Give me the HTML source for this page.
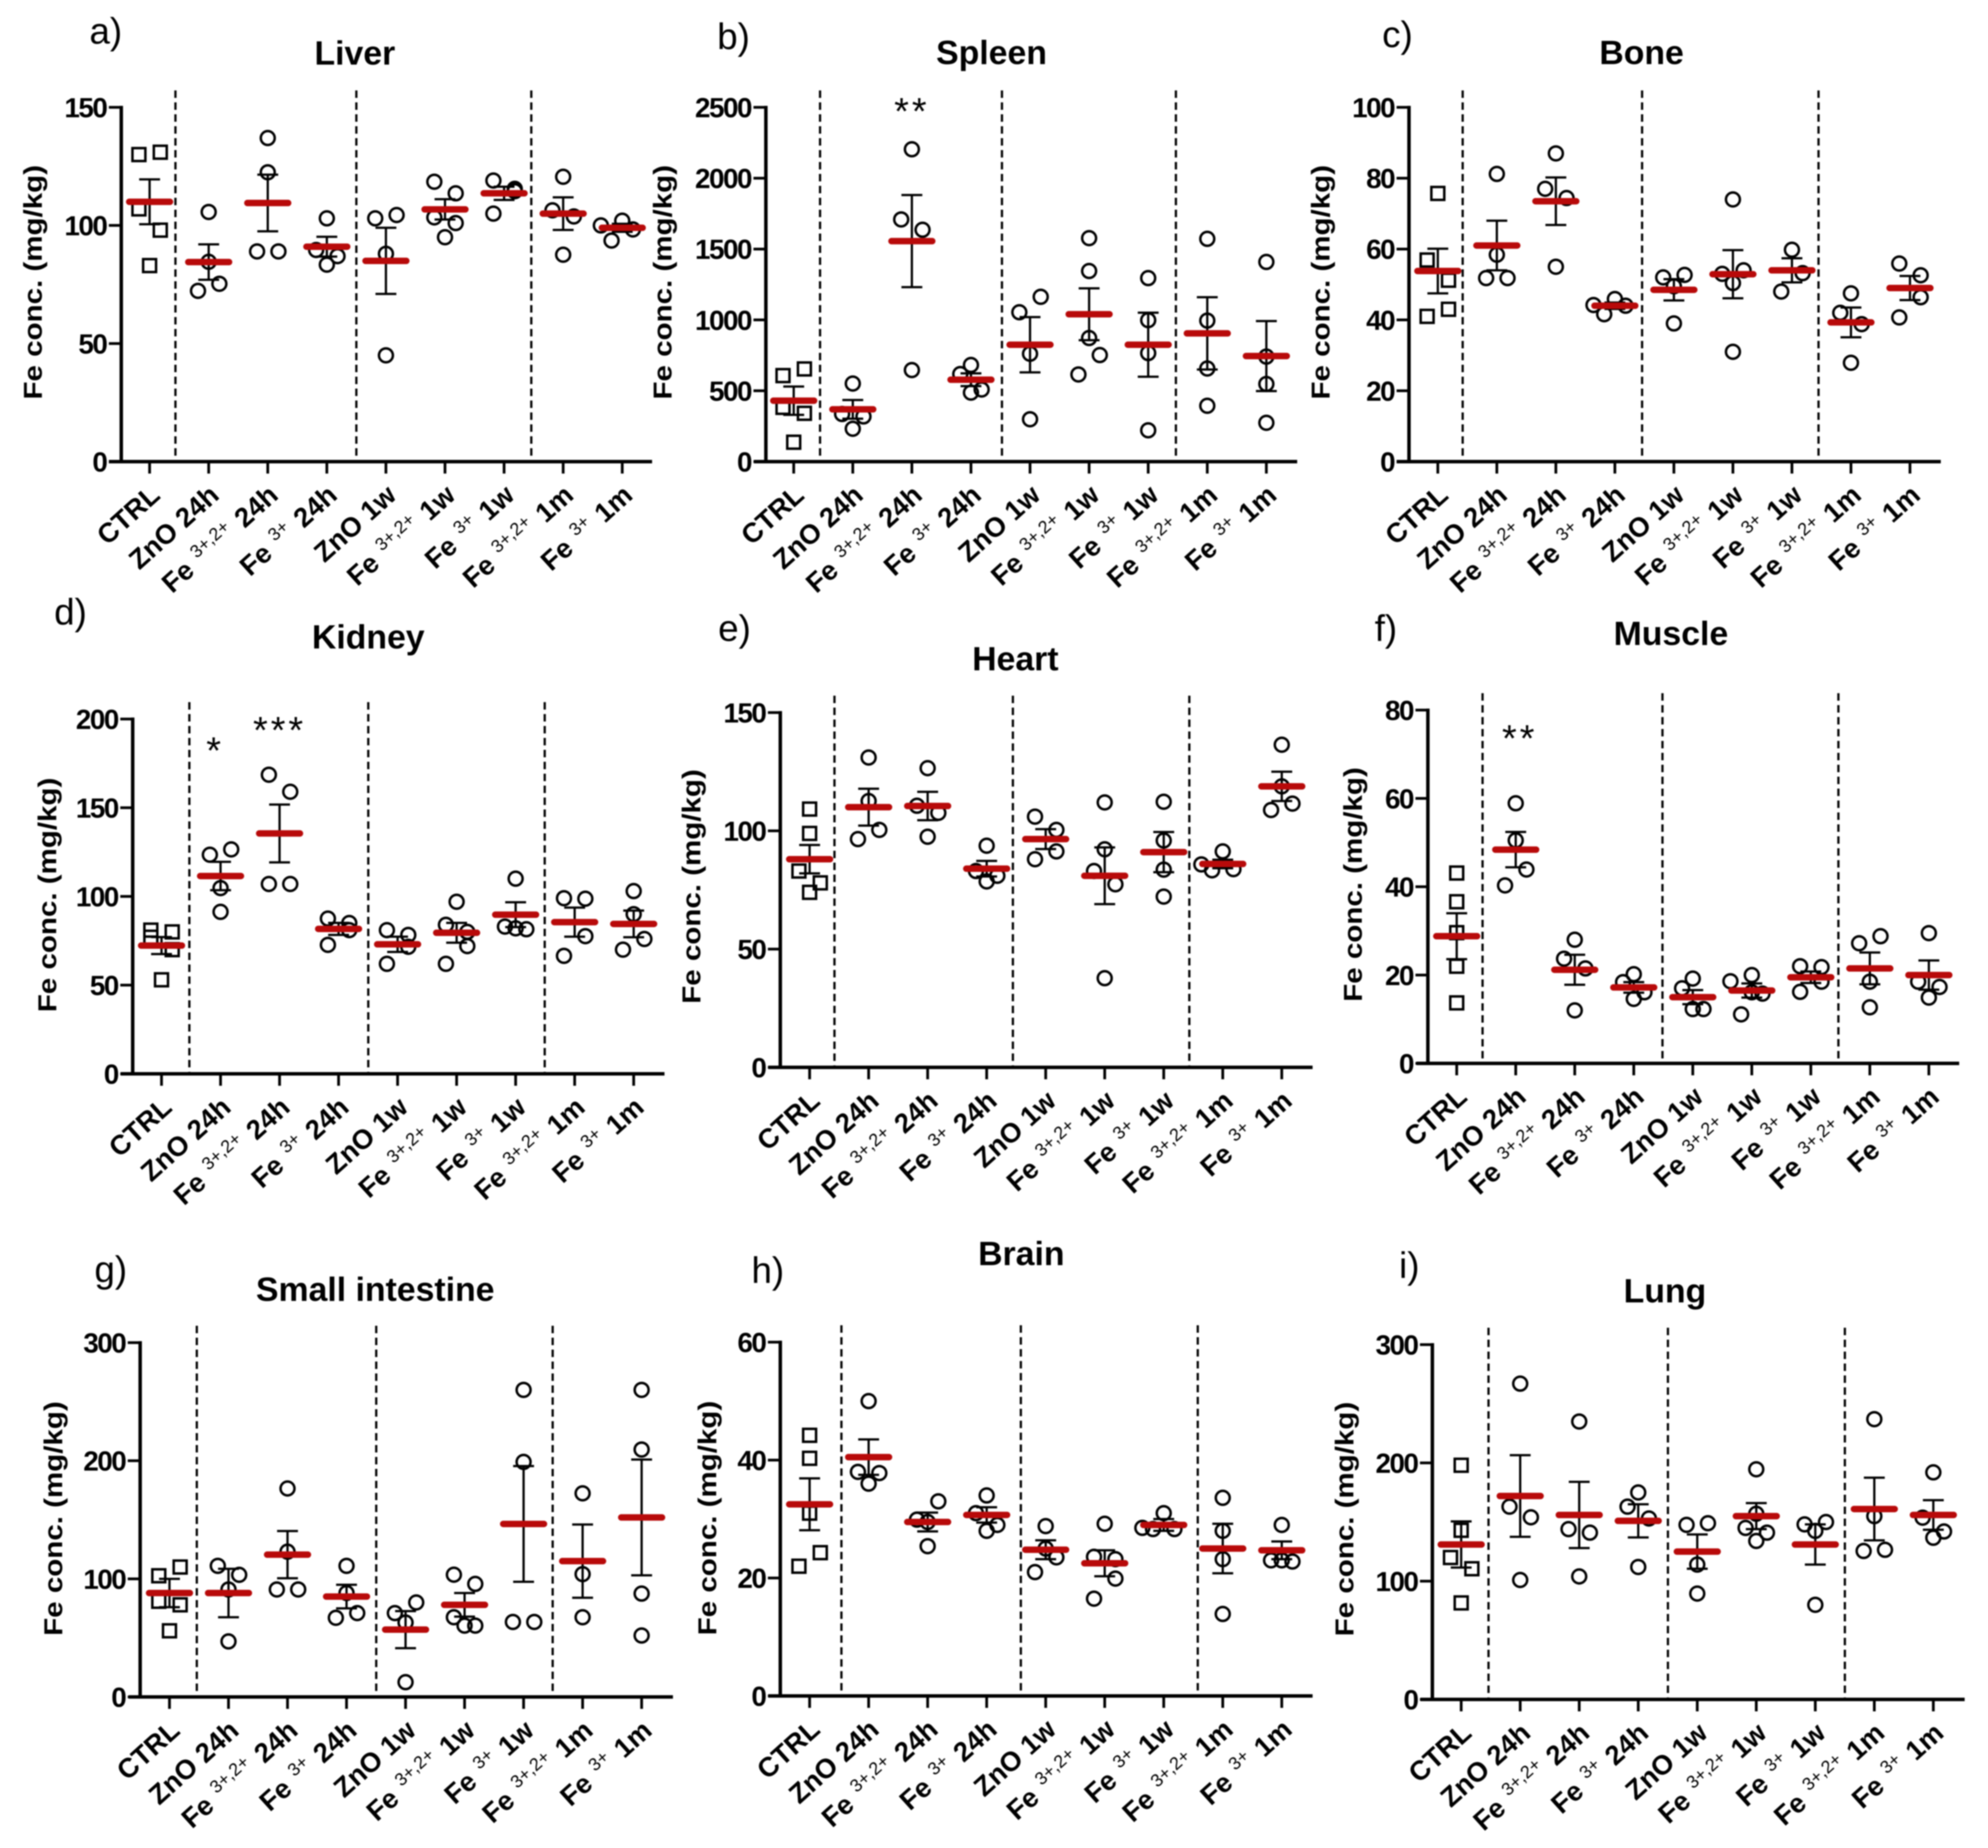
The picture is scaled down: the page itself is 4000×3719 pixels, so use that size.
<!DOCTYPE html>
<html lang="en">
<head>
<meta charset="utf-8">
<title>Fe concentration by organ</title>
<style>
html,body{margin:0;padding:0;background:#fff;}
#figure{display:block;width:4000px;height:3719px;background:#fff;filter:blur(1.2px);}
text{font-family:"Liberation Sans",sans-serif;fill:#000;}
</style>
</head>
<body>
<svg id="figure" xmlns="http://www.w3.org/2000/svg" width="4000" height="3719" viewBox="0 0 4000 3719"></svg>
<script>
const categories = ['CTRL','ZnO 24h','Fe^3+,2+^24h','Fe^3+^24h','ZnO 1w','Fe^3+,2+^1w','Fe^3+^1w','Fe^3+,2+^1m','Fe^3+^1m'];
const yAxisTitle = 'Fe conc. (mg/kg)';

/* Each category holds its measurements, grouped into the tied rows of the dot plot. */
const liverTicks = [0,50,100,150];
const liverValues = [[[130,131],[107,98],[83]],[[105.7],[84.6],[72.3,75.3]],[[137],[122.5],[89,89]],[[103],[89.6,87],[83.4]],[[103,104.4],[88],[45]],[[118.5,113.6],[103.4,101],[95]],[[119,115.5],[105,114.5]],[[120.6],[106.4,103.8],[87.6]],[[100,93.6,102,98.3]]];
const liverMeans = [110,84.5,109.5,91,85,106.8,113.6,105,99];
const liverSems = [9.5,7.5,12,4.2,14,4.3,2.8,6.9,1.7];

const spleenTicks = [0,500,1000,1500,2000,2500];
const spleenValues = [[[607,654],[383,341],[137]],[[551],[336,319],[232]],[[2204],[1709,1636],[646]],[[682],[618,509],[487]],[[1054,1163],[761],[299]],[[1577],[1345],[872],[615,752]],[[1295],[998],[766],[221]],[[1572],[995],[657],[394]],[[1409],[741],[548],[274]]];
const spleenMeans = [430,369,1556,578,825,1040,825,905,745];
const spleenSems = [100,66,325,45,195,183,226,255,247];

const boneTicks = [0,20,40,60,80,100];
const boneValues = [[[75.7],[56.9,51.2],[41,43]],[[81.2],[58.4],[51.8,51.8]],[[87],[77,74.4],[55]],[[44.2,41.6,45.9,44]],[[52,52.7],[49.5],[39]],[[74],[53,54],[50.4],[31]],[[59.8],[48,53.2]],[[47.5],[42,38.8],[27.9]],[[55.9,52.6],[40.7,46.4]]];
const boneMeans = [53.8,61,73.5,44,48.5,52.9,54,39.3,49];
const boneSems = [6.3,7,6.7,0.9,3,6.8,3.4,4.2,3.4];

const kidneyTicks = [0,50,100,150,200];
const kidneyValues = [[[81,80],[77,70],[53]],[[123.5,126.5],[104.7],[91.3]],[[168.6,159],[107,107]],[[87.5,85],[72.7,81]],[[81,78.3],[62,71.6]],[[97],[84,80],[62,72]],[[110],[83,82,81.5]],[[99,98.7],[66.5,77.6]],[[103],[90],[70,76]]];
const kidneyMeans = [72.3,111.5,135.5,81.7,73,79.5,89.7,85.5,84.5];
const kidneySems = [4.8,8,16.3,3.4,4.3,5.6,7,8.2,7.5];

const heartTicks = [0,50,100,150];
const heartValues = [[[109.2],[98.9],[83,78],[74]],[[131],[112.6],[96.5,100.4]],[[126.5],[110.6,107.6],[97.5]],[[93.7],[83,81],[78.6]],[[106,100.4],[88,91.3]],[[112],[92.2],[83,77.4],[37.7]],[[112.3],[95.9],[83.6],[72.2]],[[85.8,83.3,91.3,83.8]],[[136.4],[118.8],[108.8,111.5]]];
const heartMeans = [88,110,110.5,84,96.5,81,91,86,118.8];
const heartSems = [6,7.8,6,3.3,4.2,12,8.5,1.8,6.2];

const muscleTicks = [0,20,40,60,80];
const muscleValues = [[[43.1],[36.6],[29.6],[22],[13.7]],[[58.9],[50.5],[40.3,43.9]],[[28],[23.7,21.5],[12]],[[20.2],[18.4,16.1],[14.6]],[[17,19.2,12.3],[12.3]],[[18.6,11.1,20,15.8],[16.1]],[[22,21.8],[16.2,18.5]],[[27.2,28.8],[18.5],[12.7]],[[29.5],[18.5,17.3],[14.9]]];
const muscleMeans = [28.8,48.4,21.2,17.2,15,16.5,19.5,21.5,20];
const muscleSems = [5.2,4,3.4,1.2,1.6,1.6,1.3,3.6,3.3];

const intestineTicks = [0,100,200,300];
const intestineValues = [[[102.6,110],[81,78],[56]],[[111,103.4],[91],[47]],[[176.5],[123],[91,91]],[[111],[88],[67,71]],[[71,80],[63],[12.5]],[[103.5,95.7],[67.5,60.4,60.4]],[[260],[199],[63.5,63.5]],[[172.4],[104],[67.5]],[[260],[209.5],[87.5],[52]]];
const intestineMeans = [88,88,120.5,85,57,78,146.5,115,152];
const intestineSems = [12,20.5,20,10,15.7,10,49,31,49];

const brainTicks = [0,20,40,60];
const brainValues = [[[44.2],[40.3],[31],[22,24.3]],[[50],[38,37.8],[36]],[[29.9,29.5,33],[25.4]],[[34],[31,29],[28]],[[28.8],[25],[21,23.5]],[[29.2],[23.6,23.2],[16.5,19.9]],[[28.5,28.3,31,28.3]],[[33.6],[28],[23.2],[13.9]],[[29],[23,23,22.8]]];
const brainMeans = [32.5,40.5,29.5,30.7,24.8,22.5,29,25,24.7];
const brainSems = [4.4,3,1.6,1.3,1.6,2.2,1,4.2,1.5];

const lungTicks = [0,100,200,300];
const lungValues = [[[198],[143],[120,110.5],[81.6]],[[267],[163,154],[101]],[[235],[144,141],[104]],[[175],[163,153],[112]],[[147.6,149],[114],[89.5]],[[194.6],[157],[145,141],[134]],[[148,150],[142.5],[80]],[[237],[155],[125.5,126.5]],[[192],[153.7,142],[136.7]]];
const lungMeans = [131,172,156,151,125,155,131,161,156];
const lungSems = [19.5,34.5,28,14,14.5,11,17,26.5,12.5];

const spleenStars = ['**'];
const kidneyStars = ['*','***'];
const muscleStars = ['**'];

const svg = document.getElementById('figure');
const NS = 'http://www.w3.org/2000/svg';

function make(parent, tag, attrs) {
  const el = document.createElementNS(NS, tag);
  for (const k in attrs) el.setAttribute(k, attrs[k]);
  parent.appendChild(el);
  return el;
}

/* dot-plot spreading: tied values in a row share the width around the category centre */
const slotPatterns = {1:[0],2:[-1,1],3:[-1,0,1],4:[-2,-1,0,1],5:[-2,-1,0,1,2]};
const slotWidth = 21.5;

const panels = [
 {id:'liver',title:'Liver',letter:'a)',ticks:liverTicks,values:liverValues,means:liverMeans,sems:liverSems,ax:244,top:216,bottom:929,x0:301,x8:1252,left:219,right:1312,dash:[353,717,1069],tx:714,ty:130,lx:180,ly:88,yx:84,yc:568},
 {id:'spleen',title:'Spleen',letter:'b)',ticks:spleenTicks,values:spleenValues,means:spleenMeans,sems:spleenSems,ax:1541,top:216,bottom:929,x0:1597,x8:2548,left:1517,right:2610,dash:[1650,2016,2366],tx:1995,ty:129,lx:1443,ly:99,yx:1351,yc:568,stars:spleenStars,starCats:[2],starVals:[2500],starDx:[0]},
 {id:'bone',title:'Bone',letter:'c)',ticks:boneTicks,values:boneValues,means:boneMeans,sems:boneSems,ax:2835,top:216,bottom:929,x0:2893,x8:3843,left:2810,right:3905,dash:[2943,3304,3659],tx:3303,ty:129,lx:2781,ly:95,yx:2675,yc:568},
 {id:'kidney',title:'Kidney',letter:'d)',ticks:kidneyTicks,values:kidneyValues,means:kidneyMeans,sems:kidneySems,ax:267,top:1447,bottom:2161,x0:325,x8:1275,left:243,right:1337,dash:[381,741,1096],tx:741,ty:1305,lx:109,ly:1257,yx:113,yc:1801,stars:kidneyStars,starCats:[1,2],starVals:[184.5,196],starDx:[-11,0]},
 {id:'heart',title:'Heart',letter:'e)',ticks:heartTicks,values:heartValues,means:heartMeans,sems:heartSems,ax:1570,top:1434,bottom:2148,x0:1629,x8:2579,left:1546,right:2641,dash:[1679,2038,2393],tx:2043,ty:1349,lx:1445,ly:1290,yx:1409,yc:1784},
 {id:'muscle',title:'Muscle',letter:'f)',ticks:muscleTicks,values:muscleValues,means:muscleMeans,sems:muscleSems,ax:2873,top:1429,bottom:2140,x0:2931,x8:3881,left:2850,right:3942,dash:[2983,3345,3699],tx:3362,ty:1298,lx:2766,ly:1290,yx:2740,yc:1780,stars:muscleStars,starCats:[1],starVals:[74.5],starDx:[8]},
 {id:'small-intestine',title:'Small intestine',letter:'g)',ticks:intestineTicks,values:intestineValues,means:intestineMeans,sems:intestineSems,ax:282,top:2702,bottom:3415,x0:341,x8:1291,left:259,right:1354,dash:[396,757,1112],tx:755,ty:2618,lx:190,ly:2580,yx:125,yc:3056},
 {id:'brain',title:'Brain',letter:'h)',ticks:brainTicks,values:brainValues,means:brainMeans,sems:brainSems,ax:1570,top:2701,bottom:3413,x0:1629,x8:2579,left:1546,right:2641,dash:[1693,2054,2410],tx:2055,ty:2546,lx:1512,ly:2582,yx:1441,yc:3055},
 {id:'lung',title:'Lung',letter:'i)',ticks:lungTicks,values:lungValues,means:lungMeans,sems:lungSems,ax:2882,top:2706,bottom:3420,x0:2940,x8:3890,left:2858,right:3953,dash:[2995,3356,3712],tx:3350,ty:2621,lx:2815,ly:2572,yx:2723,yc:3057}
];

panels.forEach(function (p) {
  const maxV = p.ticks[p.ticks.length - 1];
  const yOf = function (v) { return p.bottom - v / maxV * (p.bottom - p.top); };
  const xOf = function (i) { return p.x0 + i * (p.x8 - p.x0) / (categories.length - 1); };

  const g = make(svg, 'g', {});
  
  

  const letter = make(g, 'text', {x:p.lx, y:p.ly, 'font-size':74});
  
  
  letter.textContent = p.letter;

  const title = make(g, 'text', {x:p.tx, y:p.ty, 'font-size':68, 'font-weight':'bold', 'text-anchor':'middle'});
  
  
  title.textContent = p.title;

  const yTitle = make(g, 'text', {transform:'translate(' + p.yx + ' ' + p.yc + ') rotate(-90)', 'font-size':52, 'font-weight':'bold', 'text-anchor':'middle', textLength:472, lengthAdjust:'spacingAndGlyphs'});
  
  
  yTitle.textContent = yAxisTitle;

  p.dash.forEach(function (dx) {
    const d = make(g, 'line', {x1:dx, x2:dx, y1:p.top - 34, y2:p.bottom, stroke:'#000', 'stroke-width':4.5, 'stroke-dasharray':'15 9'});
    
    
  });

  const yAxis = make(g, 'line', {x1:p.ax, x2:p.ax, y1:p.top - 3, y2:p.bottom + 3, stroke:'#000', 'stroke-width':7});
  
  
  const xAxis = make(g, 'line', {x1:p.left, x2:p.right, y1:p.bottom, y2:p.bottom, stroke:'#000', 'stroke-width':7});
  
  

  p.ticks.forEach(function (t) {
    const y = yOf(t);
    const tick = make(g, 'line', {x1:p.ax - 25, x2:p.ax, y1:y, y2:y, stroke:'#000', 'stroke-width':5.5});
    
    
    const lab = make(g, 'text', {x:p.ax - 30, y:y + 20, 'font-size':56, 'font-weight':'bold', 'text-anchor':'end', 'letter-spacing':-3});
    
    
    lab.textContent = t;
  });

  categories.forEach(function (c, i) {
    const x = xOf(i);
    const tick = make(g, 'line', {x1:x, x2:x, y1:p.bottom, y2:p.bottom + 24, stroke:'#000', 'stroke-width':5.5});
    
    

    const lab = make(g, 'text', {transform:'translate(' + (x + 24) + ' ' + (p.bottom + 72) + ') rotate(-42)', 'font-size':55, 'font-weight':'bold', 'text-anchor':'end'});
    
    
    const parts = c.split('^');
    if (parts.length === 1) {
      lab.textContent = c;
    } else {
      const a = make(lab, 'tspan', {});
      a.textContent = parts[0];
      const s = make(lab, 'tspan', {dx:20, dy:-20, 'font-size':36, 'font-weight':'normal'});
      s.textContent = parts[1];
      const b = make(lab, 'tspan', {dx:20, dy:20});
      b.textContent = parts[2];
    }

    p.values[i].forEach(function (row) {
      const pattern = slotPatterns[row.length] || slotPatterns[5];
      row.forEach(function (v, k) {
        const cx = x + pattern[k % pattern.length] * slotWidth;
        const cy = yOf(v);
        let mark;
        if (i === 0) {
          mark = make(g, 'rect', {x:cx - 13, y:cy - 13, width:26, height:26, fill:'none', stroke:'#000', 'stroke-width':5});
        } else {
          mark = make(g, 'circle', {cx:cx, cy:cy, r:14, fill:'none', stroke:'#000', 'stroke-width':5});
        }
        
        
      });
    });

    const mean = p.means[i];
    const sem = p.sems[i];
    const hi = yOf(mean + sem);
    const lo = yOf(mean - sem);
    const stem = make(g, 'line', {x1:x, x2:x, y1:hi, y2:lo, stroke:'#000', 'stroke-width':4.5});
    
    
    const capTop = make(g, 'line', {x1:x - 21, x2:x + 21, y1:hi, y2:hi, stroke:'#000', 'stroke-width':4.5});
    
    
    const capBot = make(g, 'line', {x1:x - 21, x2:x + 21, y1:lo, y2:lo, stroke:'#000', 'stroke-width':4.5});
    
    
    const my = yOf(mean);
    const bar = make(g, 'line', {x1:x - 41, x2:x + 41, y1:my, y2:my, stroke:'#b80a0a', 'stroke-width':13, 'stroke-linecap':'round'});
    
    
  });

  (p.stars || []).forEach(function (s, k) {
    const star = make(g, 'text', {x:xOf(p.starCats[k]) + p.starDx[k], y:yOf(p.starVals[k]) + 34, 'font-size':76, 'text-anchor':'middle', 'letter-spacing':6});
    
    
    star.textContent = s;
  });
});
</script>
</body>
</html>
